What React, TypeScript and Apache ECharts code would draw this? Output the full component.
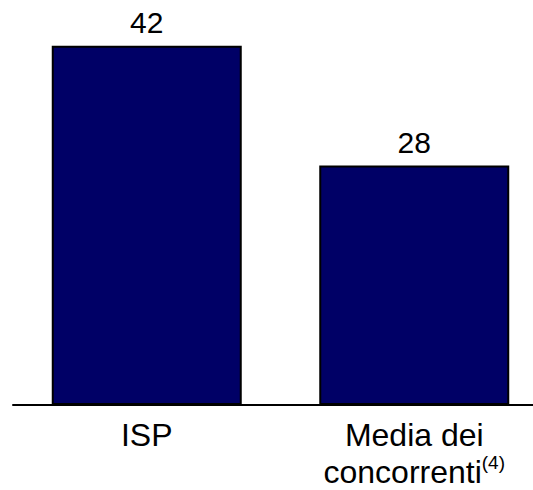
import React, { useEffect, useRef } from "react";
import * as echarts from "echarts";

const categories = ["ISP", "Media dei concorrenti"];
const values = [42, 28];
const footnotes = ["", "(4)"];

export default function App() {
  const ref = useRef<HTMLDivElement>(null);
  useEffect(() => {
    document.body.style.margin = "0";
    const chart = echarts.init(ref.current!, null, { renderer: "svg" });
    chart.setOption({
      animation: false,
      grid: { left: 13, width: 535, top: 20, height: 385, containLabel: false, outerBoundsMode: "none" },
      xAxis: {
        type: "category",
        data: categories,
        axisLine: { show: true, lineStyle: { color: "#000", width: 2 } },
        axisTick: { show: false },
        axisLabel: {
          interval: 0,
          margin: 11,
          formatter: (v: string, i: number) => {
            const parts = v === "Media dei concorrenti" ? ["Media dei", "concorrenti"] : [v];
            const last = parts.length - 1;
            return parts
              .map((p, k) => (k === last && footnotes[i] ? `{a|${p}}{s|${footnotes[i]}}` : `{a|${p}}`))
              .join("\n");
          },
          rich: {
            a: { fontFamily: "Liberation Sans", fontSize: 32, lineHeight: 37, color: "#000" },
            s: { fontFamily: "Liberation Sans", fontSize: 19, lineHeight: 19, color: "#000", verticalAlign: "top" },
          },
        },
      },
      yAxis: {
        type: "value",
        min: 0,
        max: 45,
        show: false,
        splitLine: { show: false },
      },
      series: [
        {
          type: "bar",
          data: values,
          barWidth: 190,
          itemStyle: { color: "#000066", borderColor: "#000", borderWidth: 2 },
          label: {
            show: true,
            position: "top",
            distance: 8,
            fontFamily: "Liberation Sans",
            fontSize: 30,
            color: "#000",
          },
        },
      ],
    });
    return () => chart.dispose();
  }, []);
  return <div ref={ref} style={{ width: 533, height: 490, overflow: "hidden" }} />;
}
